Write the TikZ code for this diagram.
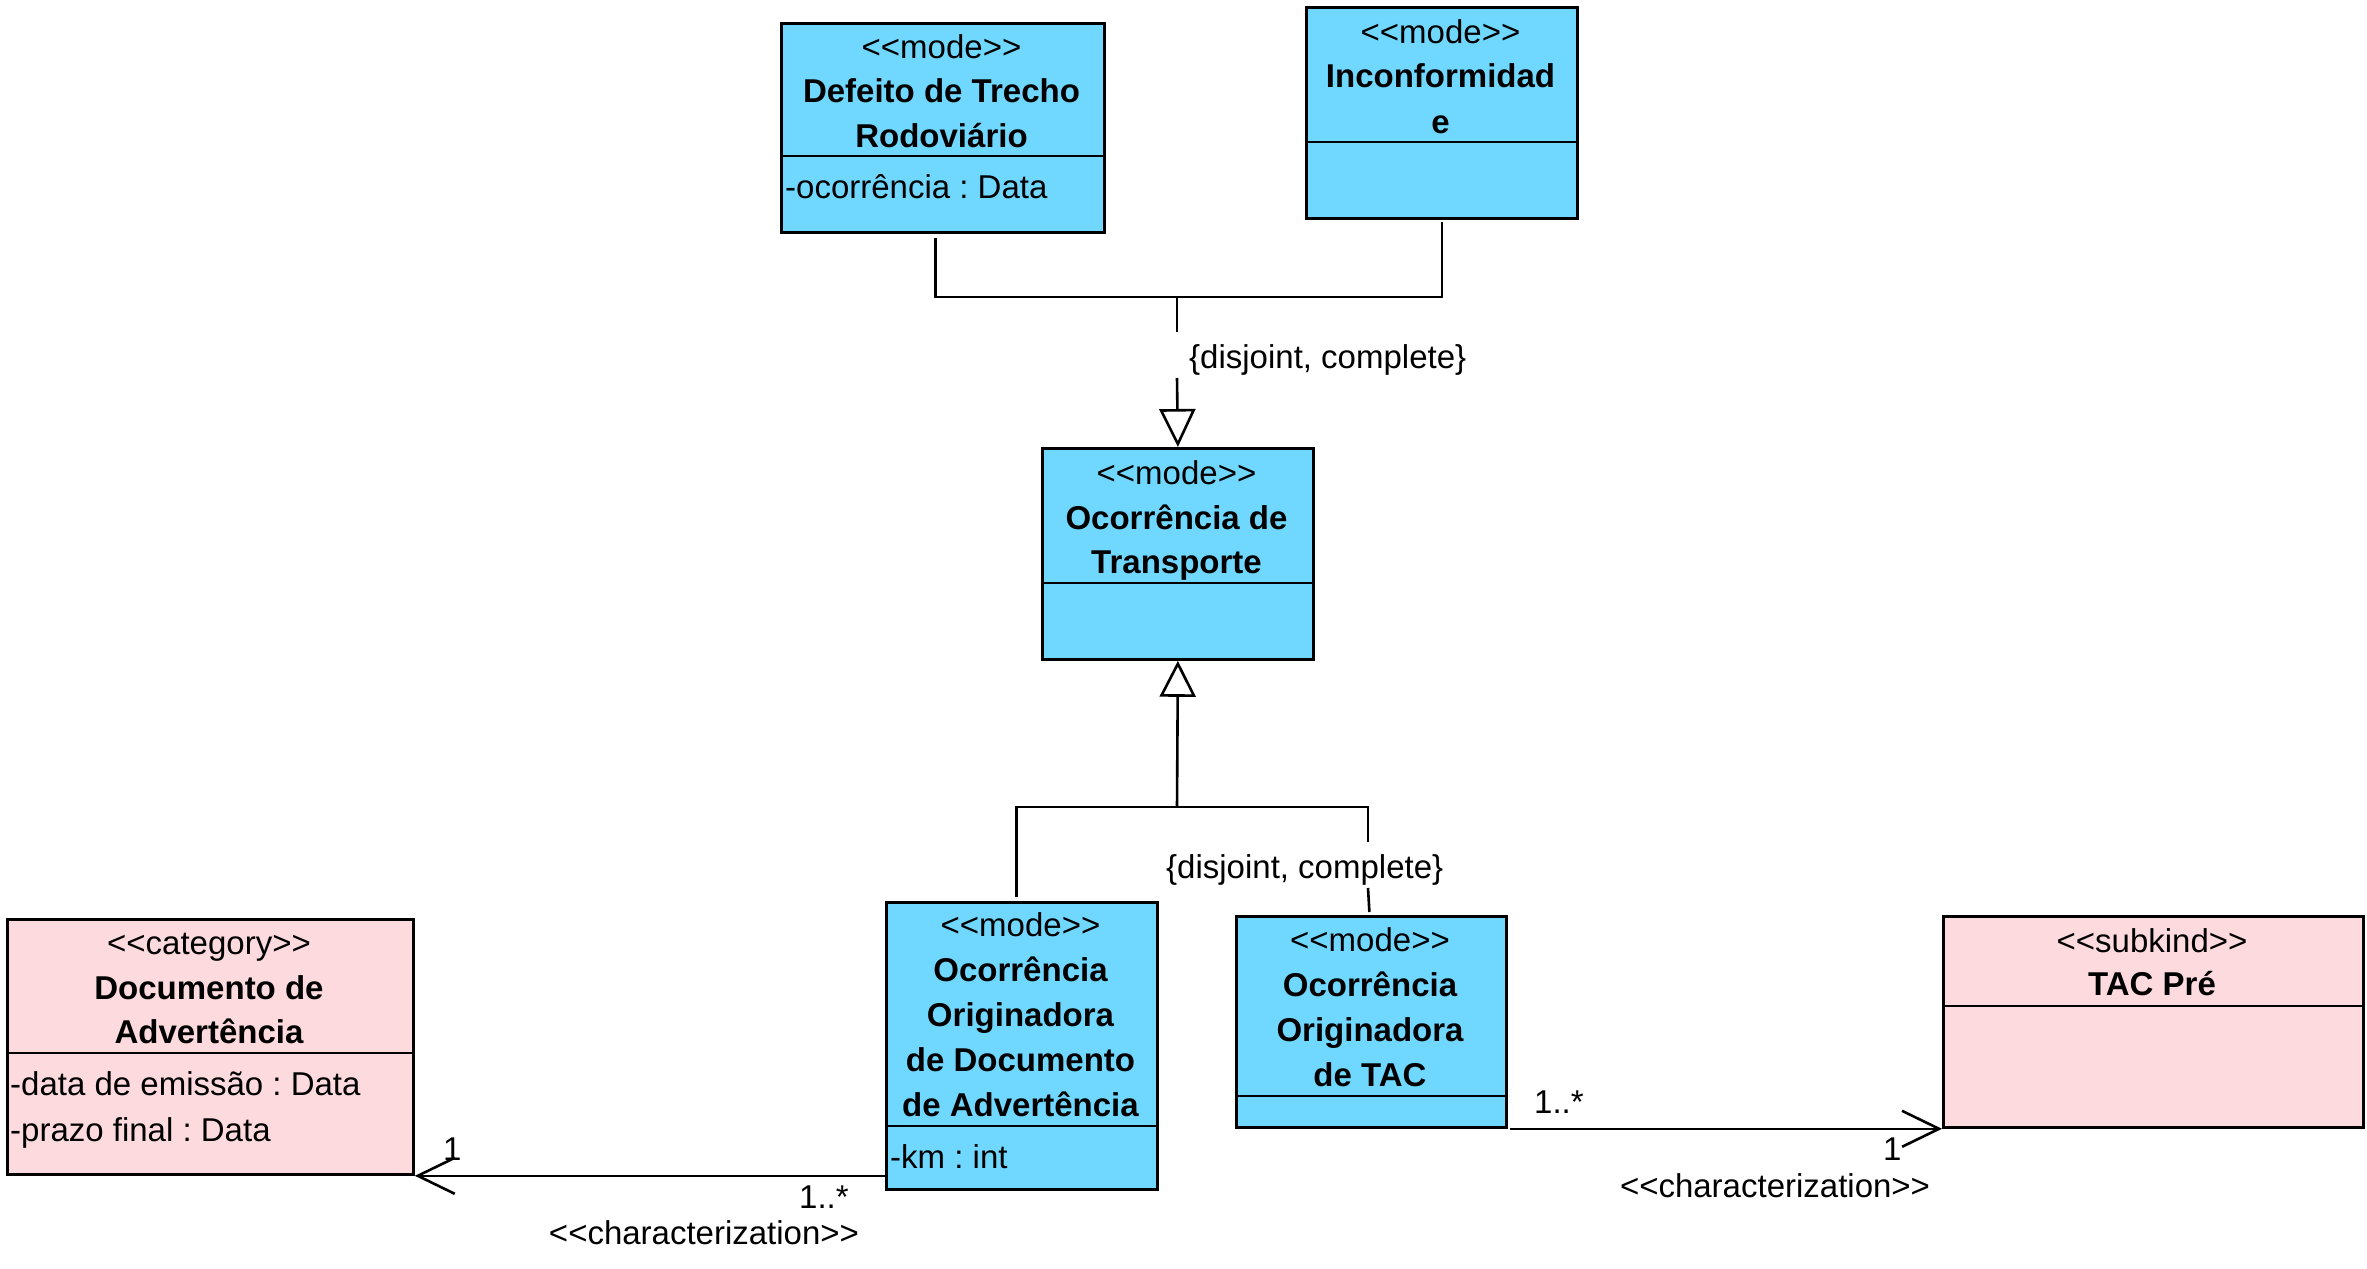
\documentclass[tikz,border=0pt]{standalone}
\usepackage{fontspec}
\newfontfamily\umlfont{Liberation Sans}
\usetikzlibrary{arrows.meta}
\definecolor{modeblue}{RGB}{112,216,255}
\definecolor{catpink}{RGB}{253,218,222}
\frenchspacing
\tikzset{
  cls/.style={draw, line width=2.8pt, inner sep=0pt, anchor=north west},
  txt/.style={font=\umlfont\fontsize{33}{45}\selectfont, inner sep=0pt},
  stereo/.style={txt, anchor=base},
  cname/.style={txt, anchor=base, font=\umlfont\bfseries\fontsize{33}{45}\selectfont},
  attr/.style={txt, anchor=base west},
  lbl/.style={txt},
  conn/.style={line width=2.6pt},
  divider/.style={line width=2.8pt},
  gentip/.style={-{Triangle[open,length=#1,width=36pt]}},
  assoctip/.style={-{Straight Barb[length=37pt,width=36pt]}},
}
\begin{document}
\begin{tikzpicture}[x=1pt,y=-1pt]
\useasboundingbox (0,0) rectangle (2367,1269);
\fill[white] (0,0) rectangle (2367,1269);

% Defeito de Trecho Rodoviario
\node[cls, fill=modeblue, minimum width=323pt, minimum height=209pt] (def) at (780,22) {};
\draw[divider] ([yshift=-134pt]def.north west) -- ([yshift=-134pt]def.north east);
\node[stereo] (def-s) at (941.5,58) {<<mode>>};
\node[cname] (def-n1) at (941.5,102) {Defeito de Trecho};
\node[cname] (def-n2) at (941.5,147) {Rodoviário};
\node[attr] (def-a1) at (785,198) {-ocorrência : Data};

% Inconformidade
\node[cls, fill=modeblue, minimum width=271pt, minimum height=211pt] (inc) at (1305,6) {};
\draw[divider] ([yshift=-136pt]inc.north west) -- ([yshift=-136pt]inc.north east);
\node[stereo] (inc-s) at (1440.5,43) {<<mode>>};
\node[cname] (inc-n1) at (1440.5,87) {Inconformidad};
\node[cname] (inc-n2) at (1440.5,133) {e};

% Ocorrencia de Transporte
\node[cls, fill=modeblue, minimum width=271pt, minimum height=211pt] (trans) at (1041,447) {};
\draw[divider] ([yshift=-136pt]trans.north west) -- ([yshift=-136pt]trans.north east);
\node[stereo] (trans-s) at (1176.5,484) {<<mode>>};
\node[cname] (trans-n1) at (1176.5,529) {Ocorrência de};
\node[cname] (trans-n2) at (1176.5,573) {Transporte};

% Ocorrencia Originadora de Documento de Advertencia
\node[cls, fill=modeblue, minimum width=271pt, minimum height=287pt] (ood) at (885,901) {};
\draw[divider] ([yshift=-225pt]ood.north west) -- ([yshift=-225pt]ood.north east);
\node[stereo] (ood-s) at (1020.5,936) {<<mode>>};
\node[cname] (ood-n1) at (1020.5,981) {Ocorrência};
\node[cname] (ood-n2) at (1020.5,1026) {Originadora};
\node[cname] (ood-n3) at (1020.5,1071) {de Documento};
\node[cname] (ood-n4) at (1020.5,1116) {de Advertência};
\node[attr] (ood-a1) at (890,1168) {-km : int};

% Ocorrencia Originadora de TAC
\node[cls, fill=modeblue, minimum width=270pt, minimum height=211pt] (otac) at (1235,915) {};
\draw[divider] ([yshift=-181pt]otac.north west) -- ([yshift=-181pt]otac.north east);
\node[stereo] (otac-s) at (1370,951) {<<mode>>};
\node[cname] (otac-n1) at (1370,996) {Ocorrência};
\node[cname] (otac-n2) at (1370,1041) {Originadora};
\node[cname] (otac-n3) at (1370,1086) {de TAC};

% Documento de Advertencia
\node[cls, fill=catpink, minimum width=406pt, minimum height=255pt] (docadv) at (6,918) {};
\draw[divider] ([yshift=-135pt]docadv.north west) -- ([yshift=-135pt]docadv.north east);
\node[stereo] (doc-s) at (209,954) {<<category>>};
\node[cname] (doc-n1) at (209,999) {Documento de};
\node[cname] (doc-n2) at (209,1043) {Advertência};
\node[attr] (doc-a1) at (10,1095) {-data de emissão : Data};
\node[attr] (doc-a2) at (10,1141) {-prazo final : Data};

% TAC Pre
\node[cls, fill=catpink, minimum width=420pt, minimum height=211pt] (tacpre) at (1942,915) {};
\draw[divider] ([yshift=-91pt]tacpre.north west) -- ([yshift=-91pt]tacpre.north east);
\node[stereo] (tac-s) at (2152,952) {<<subkind>>};
\node[cname] (tac-n1) at (2152,995) {TAC Pré};

% upper generalization set
\coordinate (g1) at (1177,297);
\coordinate (g1a) at (1177,332);
\coordinate (g1b) at (1177,378);
\draw[conn] ([xshift=-7.5pt,yshift=-4pt]def.south) |- (g1);
\draw[conn] ([yshift=-2pt]inc.south) |- (g1);
\draw[conn] (g1) -- (g1a);
\draw[conn, gentip=38pt] (g1b) -- (trans.north);
\node[lbl, anchor=base west] (gl1) at (1189,368) {\{disjoint, complete\}};

% lower generalization set
\coordinate (g2) at (1177,807);
\coordinate (g2r) at (1368,842);
\coordinate (g2s) at (1368,888);
\draw[conn, gentip=36pt] (g2) -- (trans.south);
\draw[conn] ([xshift=-5.5pt,yshift=4pt]ood.north) |- (g2);
\draw[conn] (g2) -| (g2r);
\draw[conn] (g2s) -- ([xshift=-2pt,yshift=3pt]otac.north);
\node[lbl, anchor=base west] (gl2) at (1166,878) {\{disjoint, complete\}};

% characterization 1
\draw[conn, assoctip] (ood.west |- docadv.south) -- (docadv.south east);
\node[lbl, anchor=base west] (a1m1) at (443,1160) {1};
\node[lbl, anchor=base west] (a1m2) at (799,1208) {1..*};
\node[lbl, anchor=base] (a1s) at (704,1244) {<<characterization>>};

% characterization 2
\draw[conn, assoctip] ([xshift=2pt]otac.south east) -- (tacpre.south west);
\node[lbl, anchor=base west] (a2m1) at (1534,1113) {1..*};
\node[lbl, anchor=base west] (a2m2) at (1883,1160) {1};
\node[lbl, anchor=base] (a2s) at (1775,1197) {<<characterization>>};
\end{tikzpicture}
\end{document}
